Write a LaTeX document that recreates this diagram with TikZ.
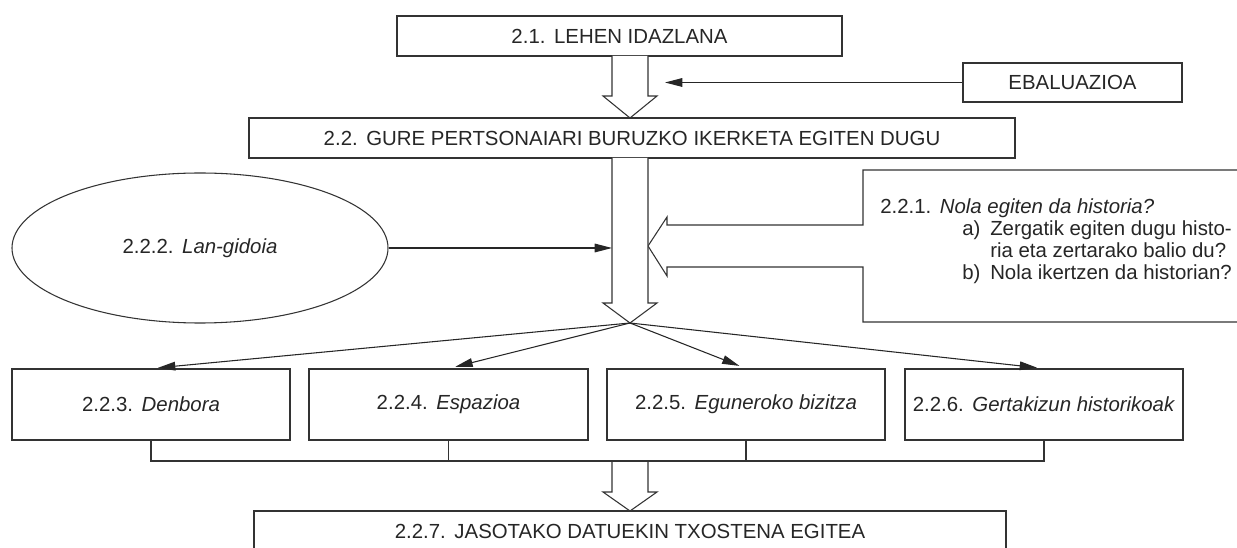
\documentclass[tikz,border=0pt]{standalone}
\usepackage{fontspec}
\setmainfont{Liberation Sans}
\usetikzlibrary{arrows.meta,shapes.geometric,calc}
\newcommand\mfs{\fontsize{15.3}{16.5}\selectfont}
\newcommand\gap{\hspace{0.42em}}
\begin{document}
\begin{tikzpicture}[x=0.75pt,y=-0.75pt,
  box/.style={draw=black!80, line width=0.8pt, inner sep=0pt, font=\mfs, text=black!85},
  txt/.style={inner sep=0pt, font=\mfs, text=black!85},
  barrow/.style={draw=black!80, fill=white, line width=0.8pt, line join=miter},
  conn/.style={draw=black!80, line width=0.8pt},
  arr/.style={draw=black!85, line width=0.8pt, -{Triangle[length=13pt,width=6.5pt]}}]
\useasboundingbox (0,0) rectangle (1237,548);
% boxes
\node[box, minimum width=445*0.75pt, minimum height=40*0.75pt] (n21) at (619.5,36) {2.1.\gap LEHEN IDAZLANA};
\node[box, minimum width=219*0.75pt, minimum height=39*0.75pt] (ev) at (1072.5,82.5) {EBALUAZIOA};
\node[box, minimum width=766*0.75pt, minimum height=40*0.75pt] (n22) at (632,138) {2.2.\gap GURE PERTSONAIARI BURUZKO IKERKETA EGITEN DUGU};
\node[box, ellipse, minimum width=376*0.75pt, minimum height=150*0.75pt] (n222) at (200,248) {2.2.2.\gap\textit{Lan-gidoia}};
\node[box, minimum width=278*0.75pt, minimum height=71*0.75pt] (n223) at (151,404.5) {2.2.3.\gap\textit{Denbora}};
\node[box, minimum width=279*0.75pt, minimum height=71*0.75pt] (n224) at (448.5,404.5) {2.2.4.\gap\textit{Espazioa}};
\node[box, minimum width=278*0.75pt, minimum height=71*0.75pt] (n225) at (746,404.5) {2.2.5.\gap\textit{Eguneroko bizitza}};
\node[box, minimum width=278*0.75pt, minimum height=71*0.75pt] (n226) at (1044,404.5) {2.2.6.\gap\textit{Gertakizun historikoak}};
\node[txt] (n227) at (630,531) {2.2.7.\gap JASOTAKO DATUEKIN TXOSTENA EGITEA};
\draw[conn] (254,548) -- (254,511) -- (1006,511) -- (1006,548);
% 2.2.1 box outline with its block arrow
\draw[conn, fill=white] (1237,170) -- (863,170) -- (863,225) -- (667,225) -- (667,217) -- (648,246) -- (667,276) -- (667,267) -- (863,267) -- (863,322) -- (1237,322);
% block arrows
\draw[barrow] (612,56) -- (612,96) -- (603,96) -- (630,118) -- (657,96) -- (648,96) -- (648,56);
\draw[barrow] (612,158) -- (612,303) -- (603,303) -- (630,323) -- (657,303) -- (648,303) -- (648,158);
\draw[barrow] (612,461) -- (612,492) -- (603,492) -- (630,511) -- (657,492) -- (648,492) -- (648,461);
% 2.2.1 text
\node[txt, anchor=north west, align=left] (n221) at (880,198) {2.2.1.\gap\textit{Nola egiten da historia?}\\
\hspace*{61.5pt}\makebox[21pt][l]{a)}Zergatik egiten dugu histo-\\
\hspace*{82.5pt}ria eta zertarako balio du?\\
\hspace*{61.5pt}\makebox[21pt][l]{b)}Nola ikertzen da historian?};
% arrows
\coordinate (evtip) at (665,82.5);
\coordinate (lgtip) at (612,248);
\coordinate (fan) at (630,323);
\coordinate (hl) at (630,461);
\draw[arr] (ev.west) -- (evtip);
\draw[arr] (n222.east) -- (lgtip);
\foreach \n in {n223,n224,n225,n226}
  \draw[arr, shorten >=5.25pt] (fan) -- (\n.north);
% lower connectors
\draw[conn] (n223.south) -- (n223.south |- hl) -- (n226.south |- hl) -- (n226.south);
\draw[conn] (n224.south) -- (n224.south |- hl);
\draw[conn] (n225.south) -- (n225.south |- hl);
\end{tikzpicture}
\end{document}
